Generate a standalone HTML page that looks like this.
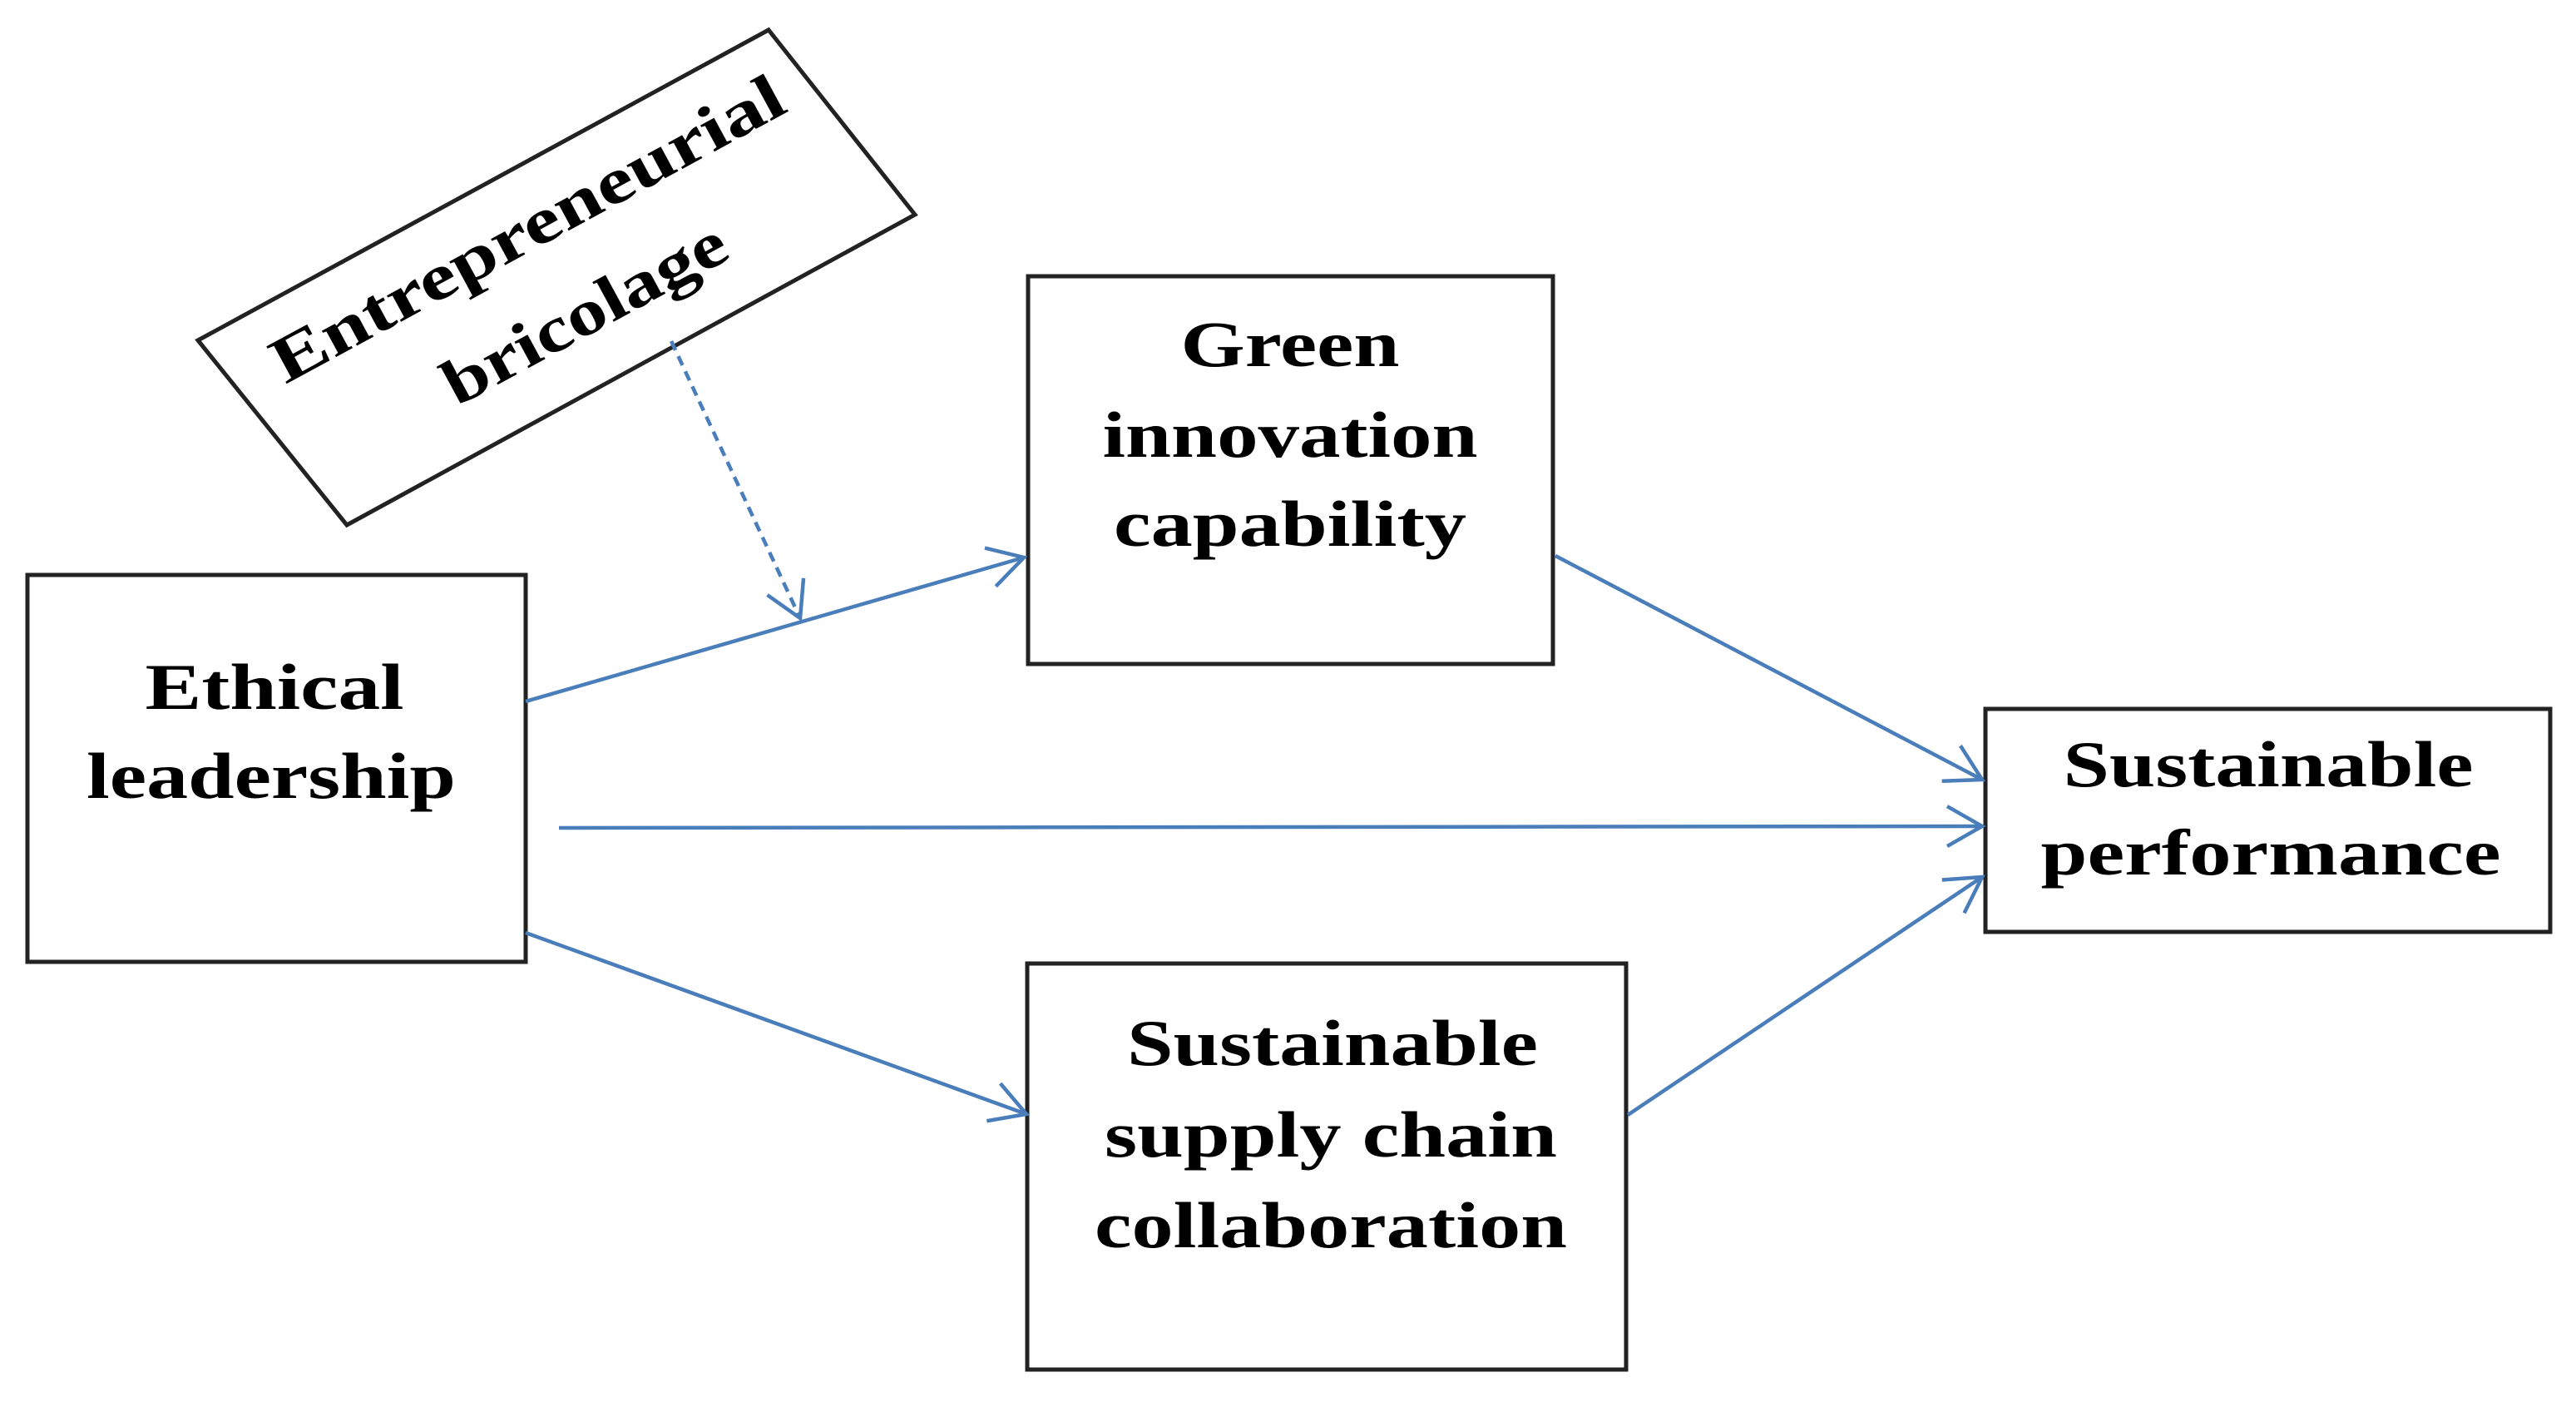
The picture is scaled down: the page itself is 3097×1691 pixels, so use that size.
<!DOCTYPE html>
<html><head><meta charset="utf-8"><style>html,body{margin:0;padding:0;background:#fff}svg{display:block}</style></head>
<body>
<svg width="3097" height="1691" viewBox="0 0 3097 1691" xmlns="http://www.w3.org/2000/svg">
<defs>
<marker id="a" markerUnits="userSpaceOnUse" markerWidth="80" markerHeight="80" refX="48" refY="28" orient="auto">
<path d="M6,4 L48,28 L6,52" fill="none" stroke="#4a7ebb" stroke-width="4.5"/>
</marker>
</defs>
<g fill="none" stroke="#222" stroke-width="5">
<rect x="33" y="691" width="599" height="465"/>
<rect x="1236" y="332" width="631" height="466"/>
<rect x="1235" y="1158" width="720" height="488"/>
<rect x="2387" y="852" width="679" height="268"/>
<polygon points="238,409 924,36 1100,258 417,631"/>
</g>
<g stroke="#4a7ebb" stroke-width="4.5" fill="none">
<line x1="632" y1="843" x2="1231" y2="670" marker-end="url(#a)"/>
<line x1="672" y1="995" x2="2383" y2="993" marker-end="url(#a)"/>
<line x1="632" y1="1121" x2="1234" y2="1339" marker-end="url(#a)"/>
<line x1="1870" y1="668" x2="2383" y2="937" marker-end="url(#a)"/>
<line x1="1957" y1="1340" x2="2383" y2="1054" marker-end="url(#a)"/>
<line x1="807" y1="410" x2="962" y2="743" stroke-dasharray="12,8" marker-end="url(#a)"/>
</g>
<g style="font-family:'Liberation Serif','Times New Roman',serif" font-weight="bold" font-size="78" fill="#000" text-anchor="middle">
<text x="1551" y="440" textLength="263" lengthAdjust="spacingAndGlyphs">Green</text>
<text x="1551" y="549" textLength="451" lengthAdjust="spacingAndGlyphs">innovation</text>
<text x="1551" y="656" textLength="424" lengthAdjust="spacingAndGlyphs">capability</text>
<text x="330" y="852" textLength="311" lengthAdjust="spacingAndGlyphs">Ethical</text>
<text x="326" y="959" textLength="444" lengthAdjust="spacingAndGlyphs">leadership</text>
<text x="2727" y="945" textLength="493" lengthAdjust="spacingAndGlyphs">Sustainable</text>
<text x="2730" y="1051" textLength="553" lengthAdjust="spacingAndGlyphs">performance</text>
<text x="1602" y="1280" textLength="494" lengthAdjust="spacingAndGlyphs">Sustainable</text>
<text x="1600" y="1390" textLength="544" lengthAdjust="spacingAndGlyphs">supply chain</text>
<text x="1600" y="1499" textLength="568" lengthAdjust="spacingAndGlyphs">collaboration</text>
<g transform="translate(669,333) rotate(-28.5)">
<text x="-3" y="-42" textLength="690" lengthAdjust="spacingAndGlyphs">Entrepreneurial</text>
<text x="9" y="80" textLength="377" lengthAdjust="spacingAndGlyphs">bricolage</text>
</g>
</g>
</svg>
</body></html>
